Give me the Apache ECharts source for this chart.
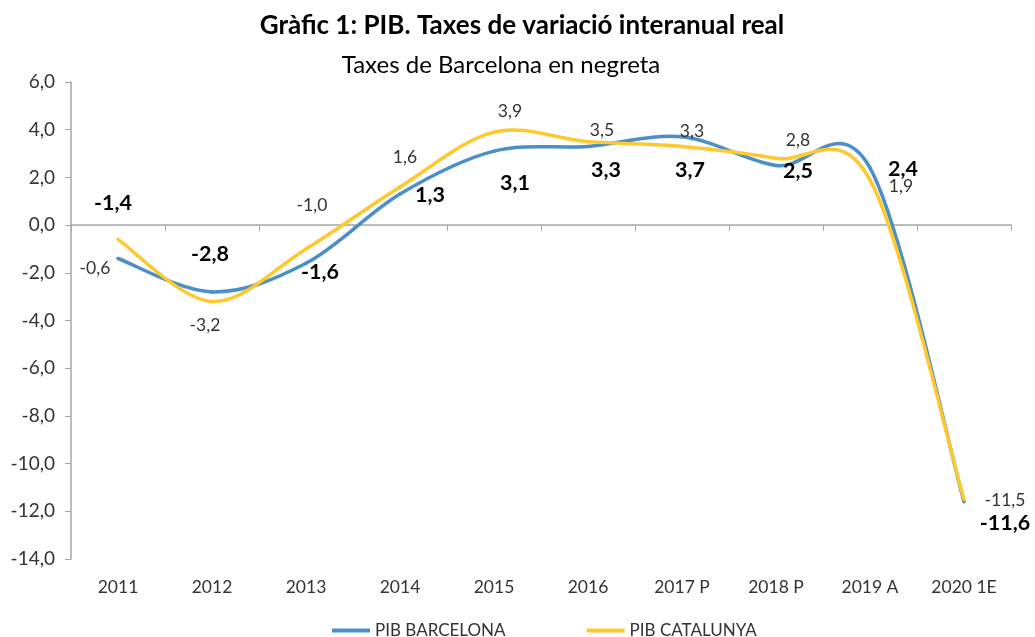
<!DOCTYPE html>
<html>
<head>
<meta charset="utf-8">
<script src="https://cdn.jsdelivr.net/npm/echarts@6/dist/echarts.min.js"></script>
<style>
  html, body { margin: 0; padding: 0; background: #fff; }
  #chart { width: 1035px; height: 637px; }
</style>
</head>
<body>
<div id="chart"></div>
<script>
// dades
var years = ['2011', '2012', '2013', '2014', '2015', '2016', '2017 P', '2018 P', '2019 A', '2020 1E'];
var pibBarcelona = [-1.4, -2.8, -1.6, 1.3, 3.1, 3.3, 3.7, 2.5, 2.4, -11.6];
var pibCatalunya = [-0.6, -3.2, -1.0, 1.6, 3.9, 3.5, 3.3, 2.8, 1.9, -11.5];

// desplaçament de les etiquetes (com a l'Excel, col·locades a mà)
var bcnOffsets = [[-5, -55], [-2, -38], [14, 9], [30, 1], [21, 32], [18, 24], [8, 33], [22, 6], [33, 1], [41, 21]];
var catOffsets = [[-23, 29], [-7, 24], [6, -44], [5, -30], [16, -21], [14, -11], [10, -15], [22, -18], [31, 7], [41, 1]];

var FONT = 'Lato, "Open Sans", sans-serif';
var BLUE = '#4a8fc8';
var YELLOW = '#ffc92e';

function fmt(v) {
  return v.toFixed(1).replace('.', ',');
}

function buildData(values, offsets, bold) {
  var out = [];
  for (var i = 0; i < values.length; i++) {
    out.push({
      value: values[i],
      label: {
        show: true,
        position: 'inside',
        offset: offsets[i],
        formatter: fmt(values[i]),
        fontFamily: FONT,
        fontSize: bold ? 21.5 : 17.5,
        fontWeight: bold ? 'bold' : 'normal',
        color: bold ? '#000' : '#333'
      }
    });
  }
  return out;
}

// corba suavitzada a l'estil Excel (Catmull-Rom), punts via api.coord
function smoothCurve(values, color) {
  return function (params, api) {
    var i = params.dataIndex;
    var n = values.length;
    if (i >= n - 1) return null;
    var p = function (k) {
      k = Math.max(0, Math.min(n - 1, k));
      return api.coord([k, values[k]]);
    };
    var p0 = p(i - 1), p1 = p(i), p2 = p(i + 1), p3 = p(i + 2);
    return {
      type: 'bezierCurve',
      shape: {
        x1: p1[0], y1: p1[1],
        cpx1: p1[0] + (p2[0] - p0[0]) / 6,
        cpy1: p1[1] + (p2[1] - p0[1]) / 6,
        cpx2: p2[0] - (p3[0] - p1[0]) / 6,
        cpy2: p2[1] - (p3[1] - p1[1]) / 6,
        x2: p2[0], y2: p2[1]
      },
      style: { stroke: color, lineWidth: 3.5, fill: null, lineCap: 'round' },
      silent: true
    };
  };
}

var chart = echarts.init(document.getElementById('chart'));

var option = {
  animation: false,
  backgroundColor: '#fff',
  title: [{
    text: 'Gràfic 1: PIB. Taxes de variació interanual real',
    left: 517,
    textAlign: 'center',
    top: 8,
    textStyle: { fontFamily: FONT, fontSize: 26, fontWeight: 'bold', color: '#000' }
  }, {
    text: 'Taxes de Barcelona en negreta',
    left: 496,
    textAlign: 'center',
    top: 48,
    textStyle: { fontFamily: FONT, fontSize: 24, fontWeight: 'normal', color: '#000' }
  }],
  legend: {
    top: 617,
    left: 327,
    itemGap: 81,
    itemWidth: 38,
    itemHeight: 4,
    icon: 'rect',
    itemStyle: { opacity: 1 },
    textStyle: { fontFamily: FONT, fontSize: 17, color: '#333', padding: [0, 0, 0, 0] },
    data: [
      { name: 'PIB BARCELONA', itemStyle: { color: BLUE } },
      { name: 'PIB CATALUNYA', itemStyle: { color: YELLOW } }
    ]
  },
  grid: { left: 71, right: 24, top: 82, bottom: 78 },
  xAxis: [{
    type: 'category',
    data: years,
    axisLine: { onZero: true, lineStyle: { color: '#a6a6a6', width: 1.5 } },
    axisTick: { show: true, alignWithLabel: false, length: 6, lineStyle: { color: '#a6a6a6' } },
    axisLabel: { show: false },
    splitLine: { show: false }
  }, {
    type: 'category',
    data: years,
    position: 'bottom',
    axisLine: { show: false, onZero: false },
    axisTick: { show: false },
    axisLabel: { margin: 19, fontFamily: FONT, fontSize: 17.5, color: '#333' }
  }],
  yAxis: {
    type: 'value',
    min: -14,
    max: 6,
    interval: 2,
    axisLine: { show: true, lineStyle: { color: '#a6a6a6', width: 1.5 } },
    axisTick: { show: true, inside: false, length: 6, lineStyle: { color: '#a6a6a6' } },
    splitLine: { show: false },
    axisLabel: {
      margin: 16,
      fontFamily: FONT,
      fontSize: 19,
      color: '#333',
      formatter: function (v) { return fmt(v); }
    }
  },
  series: [{
    name: 'bcn-curve',
    type: 'custom',
    xAxisIndex: 0,
    renderItem: smoothCurve(pibBarcelona, BLUE),
    data: pibBarcelona,
    z: 2
  }, {
    name: 'cat-curve',
    type: 'custom',
    xAxisIndex: 0,
    renderItem: smoothCurve(pibCatalunya, YELLOW),
    data: pibCatalunya,
    z: 3
  }, {
    name: 'PIB BARCELONA',
    type: 'line',
    xAxisIndex: 0,
    symbol: 'circle',
    symbolSize: 1,
    showSymbol: true,
    itemStyle: { color: BLUE },
    lineStyle: { opacity: 0 },
    data: buildData(pibBarcelona, bcnOffsets, true),
    z: 4
  }, {
    name: 'PIB CATALUNYA',
    type: 'line',
    xAxisIndex: 0,
    symbol: 'circle',
    symbolSize: 1,
    showSymbol: true,
    itemStyle: { color: YELLOW },
    lineStyle: { opacity: 0 },
    data: buildData(pibCatalunya, catOffsets, false),
    z: 4
  }]
};

chart.setOption(option);
</script>
</body>
</html>
